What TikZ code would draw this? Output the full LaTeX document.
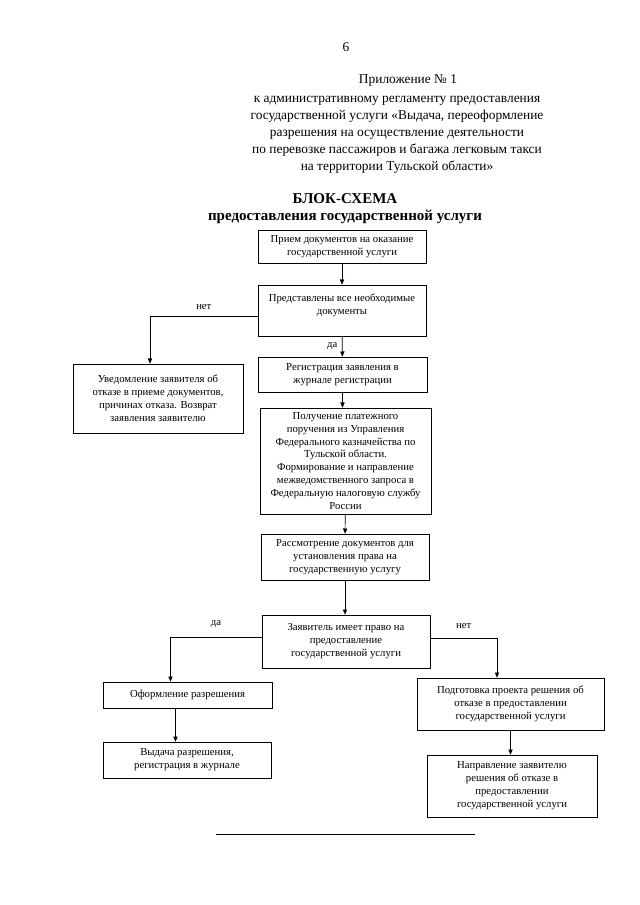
\documentclass[tikz,border=0pt]{standalone}
\usepackage{fontspec}
\setmainfont{Liberation Serif}
\usepackage{tikz}
\usetikzlibrary{arrows.meta,positioning}
\newlength\upx
\setlength\upx{0.328mm}
\tikzset{
  >={Triangle[length=1.7mm,width=1.4mm]},
  box/.style={draw,line width=0.6pt,inner sep=2pt,align=center,font=\fontsize{10}{12.1}\selectfont,fill=white},
  wh/.style 2 args={minimum width=#1\upx,minimum height=#2\upx},
  lab/.style={font=\fontsize{10}{12}\selectfont},
  arr/.style={->,line width=0.6pt},
  head/.style={font=\fontsize{12.5}{15.8}\selectfont,align=center},
  bhead/.style={font=\fontsize{14}{16}\selectfont\bfseries,align=center},
}

\begin{document}
\begin{tikzpicture}[x=0.328mm,y=-0.328mm]
\useasboundingbox (0,0) rectangle (640,905);
% heading
\node[head] (page) at (346,47) {6};
\node[head] (annex) at (408,81) {Приложение № 1};
\node[head] (reglam) at (397,135) {к административному регламенту предоставления\\государственной услуги «Выдача, переоформление\\разрешения на осуществление деятельности\\по перевозке пассажиров и багажа легковым такси\\на территории Тульской области»};
\node[bhead] (title) at (345,199) {БЛОК-СХЕМА};
\node[bhead] (subtitle) at (345,217) {предоставления государственной услуги};
% main column
\node[box,wh={168}{33}] (priem) at (342,246.5) {Прием документов на оказание\\государственной услуги};
\node[box,wh={168}{51}] (predst) at (342,310.5) {Представлены все необходимые\\документы\\\mbox{}};
\node[box,wh={169}{35}] (regist) at (342.5,374.5) {Регистрация заявления в\\журнале регистрации};
\node[box,wh={171}{106}] (poluch) at (345.5,461) {Получение платежного\\поручения из Управления\\Федерального казначейства по\\Тульской области.\\Формирование и направление\\межведомственного запроса в\\Федеральную налоговую службу\\России};
\node[box,wh={168}{46}] (rassm) at (345,557) {Рассмотрение документов для\\установления права на\\государственную услугу};
\node[box,wh={168}{53}] (zayav) at (346,641.5) {Заявитель имеет право на\\предоставление\\государственной услуги};
% side boxes
\node[box,wh={170}{69}] (uved) at (158,398.5) {Уведомление заявителя об\\отказе в приеме документов,\\причинах отказа. Возврат\\заявления заявителю};
\node[box,wh={169}{26}] (oform) at (187.5,695) {Оформление разрешения};
\node[box,wh={168}{36}] (vydacha) at (187,760) {Выдача разрешения,\\регистрация в журнале};
\node[box,wh={187}{52}] (podg) at (510.5,704) {Подготовка проекта решения об\\отказе в предоставлении\\государственной услуги};
\node[box,wh={170}{62}] (napr) at (512,786) {Направление заявителю\\решения об отказе в\\предоставлении\\государственной услуги};
% arrows
\draw[arr] (priem) -- (predst);
\draw[arr] (predst) -- node[lab,left=1pt]{да} (regist);
\draw[arr] ([yshift=-5.5\upx]predst.west) -| node[lab,above=2pt,pos=0.25]{нет} ([xshift=-8\upx]uved.north);
\draw[arr] (regist.south) -- (regist.south |- poluch.north);
\draw[arr] (poluch) -- (rassm);
\draw[arr] (rassm.south) -- (rassm.south |- zayav.north);
\draw[arr] ([yshift=4.5\upx]zayav.west) -| node[lab,above=5pt,pos=0.25]{да} ([xshift=-17\upx]oform.north);
\draw[arr] ([yshift=3.5\upx]zayav.east) -| node[lab,above=5pt,pos=0.25]{нет} ([xshift=-13.5\upx]podg.north);
\draw[arr] ([xshift=-12\upx]oform.south) -- ([xshift=-12\upx]oform.south |- vydacha.north);
\draw[arr] (podg.south) -- (podg.south |- napr.north);
% closing rule
\draw[line width=0.6pt] (216,834) -- (475,834);
\end{tikzpicture}
\end{document}
